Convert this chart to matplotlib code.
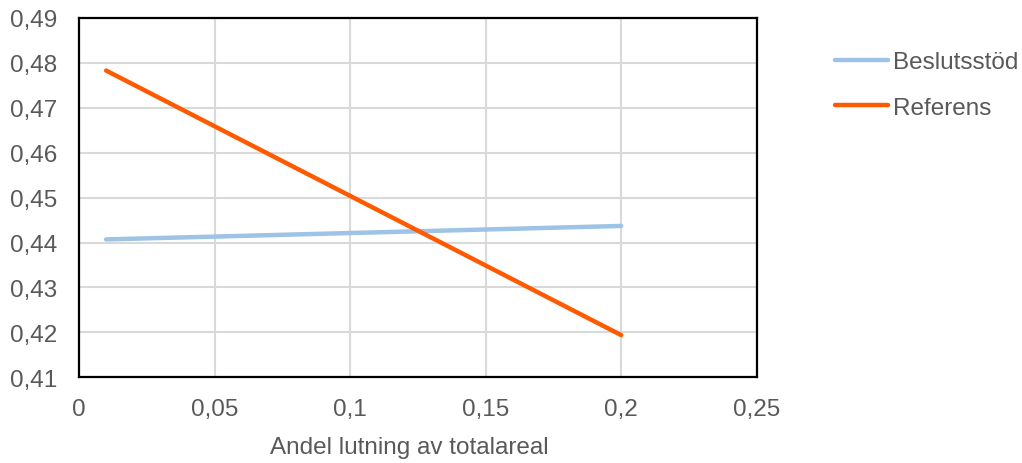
import matplotlib
matplotlib.use("Agg")
import matplotlib.pyplot as plt
from matplotlib.ticker import FuncFormatter

# data
andel = [0.01, 0.2]
beslutsstod = [0.4407, 0.4437]
referens = [0.4783, 0.4194]

xticks = [0, 0.05, 0.1, 0.15, 0.2, 0.25]
yticks = [0.41, 0.42, 0.43, 0.44, 0.45, 0.46, 0.47, 0.48, 0.49]

grey = "#595959"
fs = 17.5
plt.rcParams["font.family"] = ["Liberation Sans", "DejaVu Sans"]

fig = plt.figure(figsize=(10.22, 4.64), dpi=100)
ax = fig.add_axes([79 / 1022, 1 - 378.3 / 464, 677.7 / 1022, 359.3 / 464])

ax.plot(andel, beslutsstod, color="#9DC3E6", lw=3.2, solid_capstyle="round", label="Beslutsstöd")
ax.plot(andel, referens, color="#FF5A00", lw=3.2, solid_capstyle="round", label="Referens")

ax.set_xlim(0, 0.25)
ax.set_ylim(0.41, 0.49)
ax.set_xticks(xticks)
ax.set_yticks(yticks)

def komma(v, pos):
    s = ("%.2f" % v).rstrip("0").rstrip(".")
    return s.replace(".", ",")

ax.xaxis.set_major_formatter(FuncFormatter(komma))
ax.yaxis.set_major_formatter(FuncFormatter(komma))
ax.tick_params(axis="both", length=0, labelsize=fs, colors=grey)
ax.tick_params(axis="y", pad=16)
ax.tick_params(axis="x", pad=15)

ax.grid(True, color="#d9d9d9", lw=1.5)
ax.set_axisbelow(True)
for sp in ax.spines.values():
    sp.set_color("black")
    sp.set_linewidth(1.6)

fig.text(409.5 / 1022, 1 - 448 / 464, "Andel lutning av totalareal",
         ha="center", va="center", fontsize=fs, color=grey)

leg = fig.legend(loc="center left", bbox_to_anchor=(835 / 1022, 1 - 86 / 464),
                 frameon=False, fontsize=fs, handlelength=2.2, handletextpad=0.2,
                 labelspacing=0.98, borderpad=0, borderaxespad=0)
for t in leg.get_texts():
    t.set_color(grey)

fig.savefig("out.png", dpi=100)
